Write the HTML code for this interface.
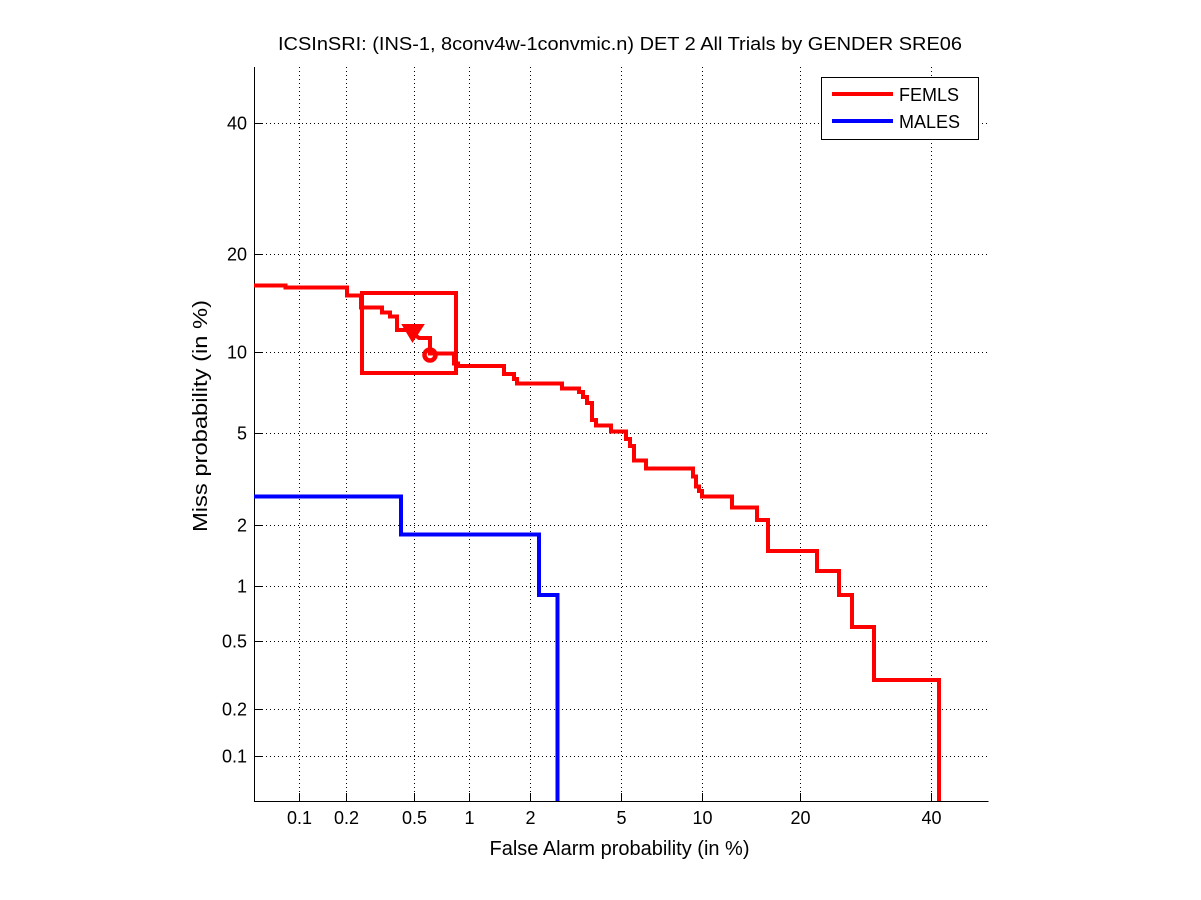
<!DOCTYPE html>
<html>
<head>
<meta charset="utf-8">
<style>
  html,body{margin:0;padding:0;background:#fff;}
  svg{display:block;}
  text{font-family:"Liberation Sans", Arial, sans-serif; fill:#000;}
</style>
</head>
<body>
<svg width="1201" height="900" viewBox="0 0 1201 900" xmlns="http://www.w3.org/2000/svg">
  <rect x="0" y="0" width="1201" height="900" fill="#fff"/>

  <!-- Title -->
  <text x="620" y="50" font-size="18" text-anchor="middle" textLength="684" lengthAdjust="spacingAndGlyphs">ICSInSRI: (INS-1, 8conv4w-1convmic.n) DET 2 All Trials by GENDER SRE06</text>

  <!-- Grid: vertical -->
  <g stroke="#000" stroke-width="1" stroke-dasharray="1,3" fill="none">
    <line x1="299.5" y1="67" x2="299.5" y2="801"/>
    <line x1="346.5" y1="67" x2="346.5" y2="801"/>
    <line x1="414.5" y1="67" x2="414.5" y2="801"/>
    <line x1="469.5" y1="67" x2="469.5" y2="801"/>
    <line x1="530.5" y1="67" x2="530.5" y2="801"/>
    <line x1="621.5" y1="67" x2="621.5" y2="801"/>
    <line x1="702.5" y1="67" x2="702.5" y2="801"/>
    <line x1="800.5" y1="67" x2="800.5" y2="801"/>
    <line x1="931.5" y1="67" x2="931.5" y2="801"/>
  </g>
  <!-- Grid: horizontal -->
  <g stroke="#000" stroke-width="1" stroke-dasharray="1,3" fill="none">
    <line x1="254" y1="756.5" x2="988" y2="756.5"/>
    <line x1="254" y1="709.5" x2="988" y2="709.5"/>
    <line x1="254" y1="641.5" x2="988" y2="641.5"/>
    <line x1="254" y1="586.5" x2="988" y2="586.5"/>
    <line x1="254" y1="525.5" x2="988" y2="525.5"/>
    <line x1="254" y1="433.5" x2="988" y2="433.5"/>
    <line x1="254" y1="352.5" x2="988" y2="352.5"/>
    <line x1="254" y1="254.5" x2="988" y2="254.5"/>
    <line x1="254" y1="123.5" x2="988" y2="123.5"/>
  </g>

  <!-- Axes lines -->
  <g stroke="#000" stroke-width="1" fill="none">
    <line x1="254.5" y1="67" x2="254.5" y2="801.5"/>
    <line x1="254" y1="801.5" x2="988.5" y2="801.5"/>
    <!-- y ticks -->
    <line x1="254" y1="756.5" x2="262" y2="756.5"/>
    <line x1="254" y1="709.5" x2="262" y2="709.5"/>
    <line x1="254" y1="641.5" x2="262" y2="641.5"/>
    <line x1="254" y1="586.5" x2="262" y2="586.5"/>
    <line x1="254" y1="525.5" x2="262" y2="525.5"/>
    <line x1="254" y1="433.5" x2="262" y2="433.5"/>
    <line x1="254" y1="352.5" x2="262" y2="352.5"/>
    <line x1="254" y1="254.5" x2="262" y2="254.5"/>
    <line x1="254" y1="123.5" x2="262" y2="123.5"/>
    <!-- x ticks -->
    <line x1="299.5" y1="801" x2="299.5" y2="793"/>
    <line x1="346.5" y1="801" x2="346.5" y2="793"/>
    <line x1="414.5" y1="801" x2="414.5" y2="793"/>
    <line x1="469.5" y1="801" x2="469.5" y2="793"/>
    <line x1="530.5" y1="801" x2="530.5" y2="793"/>
    <line x1="621.5" y1="801" x2="621.5" y2="793"/>
    <line x1="702.5" y1="801" x2="702.5" y2="793"/>
    <line x1="800.5" y1="801" x2="800.5" y2="793"/>
    <line x1="931.5" y1="801" x2="931.5" y2="793"/>
  </g>

  <!-- Y tick labels -->
  <g font-size="18" text-anchor="end">
    <text x="247" y="762.5">0.1</text>
    <text x="247" y="715.5">0.2</text>
    <text x="247" y="647.5">0.5</text>
    <text x="247" y="592.5">1</text>
    <text x="247" y="531.5">2</text>
    <text x="247" y="439.5">5</text>
    <text x="247" y="358.5">10</text>
    <text x="247" y="260.5">20</text>
    <text x="247" y="129.5">40</text>
  </g>

  <!-- X tick labels -->
  <g font-size="18" text-anchor="middle">
    <text x="299.5" y="824">0.1</text>
    <text x="346.5" y="824">0.2</text>
    <text x="414.5" y="824">0.5</text>
    <text x="469.5" y="824">1</text>
    <text x="530.5" y="824">2</text>
    <text x="621.5" y="824">5</text>
    <text x="702.5" y="824">10</text>
    <text x="800.5" y="824">20</text>
    <text x="931.5" y="824">40</text>
  </g>

  <!-- Axis labels -->
  <text x="619.5" y="855" font-size="20" text-anchor="middle" textLength="260" lengthAdjust="spacingAndGlyphs">False Alarm probability (in %)</text>
  <text transform="translate(207,416) rotate(-90)" x="0" y="0" font-size="20" text-anchor="middle" textLength="232" lengthAdjust="spacingAndGlyphs">Miss probability (in %)</text>

  <!-- Red (FEMLS) curve -->
  <path d="M254,285.5 H285.5 V287.5 H347 V295.5 H361 V307.5 H382 V312.5 H390 V316.5 H397 V330 H408 L414,334 L419,338 H430 V353.5 H454 V363.5 H458 V366 H504 V374 H514 V379 H517 V383.5 H562 V388.5 H579 V392 H583 V397 H587 V403 H592 V420 H596 V425.5 H611 V431.5 H626 V439 H630 V446 H634 V460.5 H646 V468.5 H693 V476.5 H696 V486.5 H699 V491 H702 V496.5 H732 V507.5 H757 V520 H768 V551 H817 V571 H839 V595 H852 V627 H874 V680 H939 V801"
        fill="none" stroke="#ff0000" stroke-width="4" stroke-linejoin="miter"/>
  <!-- Red rectangle -->
  <rect x="362" y="293" width="94" height="80" fill="none" stroke="#ff0000" stroke-width="4"/>
  <!-- Triangle marker -->
  <polygon points="403,325 423,325 412.5,341" fill="#ff0000" stroke="#ff0000" stroke-width="2" stroke-linejoin="miter"/>
  <!-- Circle marker -->
  <circle cx="430" cy="355" r="5.5" fill="none" stroke="#ff0000" stroke-width="4.5"/>

  <!-- Blue (MALES) curve -->
  <path d="M254,496.5 H401 V534.5 H539 V595 H557.5 V801"
        fill="none" stroke="#0000ff" stroke-width="4" stroke-linejoin="miter"/>

  <!-- Legend -->
  <rect x="821.5" y="77.5" width="157" height="62" fill="#fff" stroke="#000" stroke-width="1"/>
  <line x1="832" y1="94" x2="893" y2="94" stroke="#ff0000" stroke-width="4"/>
  <line x1="832" y1="121" x2="893" y2="121" stroke="#0000ff" stroke-width="4"/>
  <text x="899" y="101" font-size="18">FEMLS</text>
  <text x="899" y="128" font-size="18">MALES</text>
</svg>
</body>
</html>
